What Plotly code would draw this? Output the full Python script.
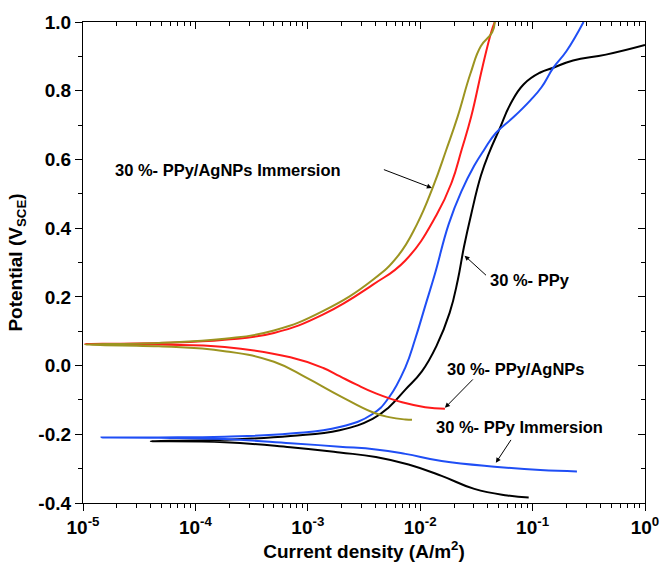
import math
import plotly.graph_objects as go

# ---------------- data ----------------
# 30 %- PPy (black)
I_ppy = [9.23e-2, 5.96e-2, 3.03e-2, 1.55e-2, 7.88e-3, 4.03e-3, 1.92e-3, 7.0e-4, 1.82e-4, 4.01e-5,
         1.82e-4, 7.0e-4, 1.92e-3, 3.77e-3, 5.27e-3, 7.38e-3, 1.035e-2, 1.40e-2, 1.83e-2, 2.16e-2,
         2.45e-2, 2.84e-2, 3.47e-2, 4.11e-2, 5.04e-2, 6.37e-2, 8.34e-2, 0.117,
         0.153, 0.229, 0.449, 1.0]
E_ppy = [-0.384, -0.378, -0.359, -0.321, -0.288, -0.266, -0.253, -0.238, -0.223, -0.220,
         -0.216, -0.205, -0.188, -0.155, -0.121, -0.070, -0.017, 0.058, 0.154, 0.249,
         0.345, 0.440, 0.553, 0.620, 0.686, 0.762, 0.819, 0.853,
         0.867, 0.888, 0.905, 0.933]

# 30 %- PPy Immersion (blue)
I_ppy_imm = [0.248, 0.117, 4.86e-2, 1.55e-2, 7.38e-3, 4.03e-3, 1.92e-3, 7.0e-4, 1.82e-4, 4.73e-5, 1.46e-5,
             4.73e-5, 1.82e-4, 7.0e-4, 1.92e-3, 3.77e-3, 5.27e-3, 7.38e-3, 9.04e-3, 1.107e-2, 1.355e-2,
             1.79e-2, 2.32e-2, 3.03e-2, 3.72e-2, 4.71e-2, 6.81e-2, 9.55e-2, 0.120, 0.153,
             0.199, 0.284]
E_ppy_imm = [-0.308, -0.304, -0.295, -0.278, -0.257, -0.244, -0.236, -0.226, -0.214, -0.210, -0.209,
             -0.209, -0.207, -0.198, -0.179, -0.141, -0.093, -0.005, 0.078, 0.173, 0.268,
             0.411, 0.506, 0.582, 0.629, 0.677, 0.724, 0.772, 0.810, 0.867,
             0.914, 1.0]

# 30 %- PPy/AgNPs (red)
I_ag = [1.66e-2, 1.107e-2, 6.90e-3, 4.03e-3, 2.69e-3, 1.92e-3, 1.374e-3, 7.0e-4,
        1.82e-4, 4.73e-5, 1.04e-5,
        4.73e-5, 1.82e-4, 5.0e-4, 1.374e-3, 3.77e-3, 7.38e-3, 1.40e-2, 1.91e-2, 2.34e-2,
        2.84e-2, 3.57e-2, 4.29e-2, 4.61e-2]
E_ag = [-0.126, -0.121, -0.107, -0.081, -0.055, -0.031, -0.007, 0.024,
        0.054, 0.061, 0.063,
        0.066, 0.075, 0.095, 0.149, 0.235, 0.306, 0.439, 0.534, 0.629,
        0.724, 0.867, 0.971, 1.0]

# 30 %- PPy/AgNPs Immersion (olive)
I_ag_imm = [8.45e-3, 7.38e-3, 5.27e-3, 3.77e-3, 1.92e-3, 9.8e-4, 5.0e-4, 1.82e-4, 4.73e-5, 1.04e-5,
            4.73e-5, 1.82e-4, 5.0e-4, 1.374e-3, 3.77e-3, 6.37e-3, 9.35e-3, 1.30e-2, 1.71e-2, 2.15e-2,
            2.80e-2, 3.47e-2, 4.37e-2, 4.61e-2]
E_ag_imm = [-0.158, -0.157, -0.150, -0.136, -0.088, -0.036, 0.011, 0.042, 0.056, 0.061,
            0.066, 0.078, 0.102, 0.159, 0.249, 0.320, 0.411, 0.520, 0.629, 0.724,
            0.850, 0.930, 0.970, 1.0]

series_names = ["30 %- PPy", "30 %- PPy Immersion", "30 %- PPy/AgNPs", "30 %- PPy/AgNPs Immersion"]
series_colors = ["#000000", "#1f4ef5", "#ff1a1a", "#9c9420"]

x_tick_vals = [1e-5, 1e-4, 1e-3, 1e-2, 1e-1, 1e0]
x_tick_text = ["10<sup>-5</sup>", "10<sup>-4</sup>", "10<sup>-3</sup>", "10<sup>-2</sup>",
               "10<sup>-1</sup>", "10<sup>0</sup>"]
y_tick_vals = [-0.4, -0.2, 0.0, 0.2, 0.4, 0.6, 0.8, 1.0]
y_tick_text = ["-0.4", "-0.2", "0.0", "0.2", "0.4", "0.6", "0.8", "1.0"]

# annotation texts: (label, text x, text y, arrow tail x, tail y, arrow head x, head y)
labels = [
    ("30 %- PPy/AgNPs Immersion", 1.95e-4, 0.570, 4.61e-3, 0.572, 1.27e-2, 0.517),
    ("30 %- PPy", 9.55e-2, 0.249, 3.97e-2, 0.259, 2.48e-2, 0.320),
    ("30 %- PPy/AgNPs", 7.16e-2, -0.009, 3.03e-2, -0.036, 1.66e-2, -0.123),
    ("30 %- PPy Immersion", 7.62e-2, -0.180, 6.55e-2, -0.212, 4.71e-2, -0.283),
]

FONT = "Liberation Sans, Arial, sans-serif"

fig = go.Figure()
for xs, ys, nm, col in [(I_ppy, E_ppy, series_names[0], series_colors[0]),
                        (I_ppy_imm, E_ppy_imm, series_names[1], series_colors[1]),
                        (I_ag, E_ag, series_names[2], series_colors[2]),
                        (I_ag_imm, E_ag_imm, series_names[3], series_colors[3])]:
    fig.add_trace(go.Scatter(x=xs, y=ys, mode="lines", name=nm,
                             line=dict(color=col, width=2, shape="spline", smoothing=1.3)))

minor_x = [k * 10.0 ** e for e in range(-5, 0) for k in range(2, 10)]

fig.update_layout(
    width=671, height=565,
    margin=dict(l=83, r=18, t=20, b=54),
    paper_bgcolor="white", plot_bgcolor="white",
    showlegend=False,
    font=dict(family=FONT, color="black", size=19, weight="bold"),
    xaxis=dict(type="log", range=[-5, 0], showgrid=False, zeroline=False,
               showline=True, linecolor="black", linewidth=1.2,
               ticks="outside", ticklen=7, tickwidth=1.2, tickcolor="black",
               tickmode="array", tickvals=x_tick_vals, ticktext=x_tick_text,
               tickfont=dict(size=19, family=FONT, weight="bold"),
               minor=dict(tickmode="array", tickvals=minor_x, ticks="outside", ticklen=4,
                          tickwidth=1, tickcolor="black", showgrid=False),
               title=dict(text="Current density (A/m<sup>2</sup>)",
                          font=dict(size=19, family=FONT, weight="bold"), standoff=2)),
    yaxis=dict(range=[-0.4, 1.0], showgrid=False, zeroline=False,
               showline=True, linecolor="black", linewidth=1.2,
               ticks="outside", ticklen=7, tickwidth=1.2, tickcolor="black",
               tickmode="array", tickvals=y_tick_vals, ticktext=y_tick_text,
               tickfont=dict(size=19, family=FONT, weight="bold"),
               minor=dict(dtick=0.1, ticks="outside", ticklen=4, tickwidth=1,
                          tickcolor="black", showgrid=False),
               title=dict(text="Potential (V<sub>SCE</sub>)",
                          font=dict(size=19, family=FONT, weight="bold"), standoff=10)),
    xaxis2=dict(type="log", range=[-5, 0], overlaying="x", side="top", anchor="y",
                showgrid=False, zeroline=False, showline=True, linecolor="black", linewidth=1.2,
                ticks="inside", ticklen=7, tickwidth=1.2, tickcolor="black",
                tickmode="array", tickvals=x_tick_vals, showticklabels=False,
                minor=dict(tickmode="array", tickvals=minor_x, ticks="inside", ticklen=4,
                           tickwidth=1, tickcolor="black", showgrid=False)),
    yaxis2=dict(range=[-0.4, 1.0], overlaying="y", side="right", anchor="x",
                showgrid=False, zeroline=False, showline=True, linecolor="black", linewidth=1.2,
                ticks="inside", ticklen=7, tickwidth=1.2, tickcolor="black",
                tickmode="array", tickvals=y_tick_vals, showticklabels=False,
                minor=dict(dtick=0.1, ticks="inside", ticklen=4, tickwidth=1,
                           tickcolor="black", showgrid=False)),
)

# invisible trace so the mirror axes render
fig.add_trace(go.Scatter(x=[1e-5], y=[-0.4], xaxis="x2", yaxis="y2", mode="markers",
                         marker=dict(opacity=0), hoverinfo="skip", showlegend=False))

for txt, tx, ty, ax0, ay0, hx, hy in labels:
    fig.add_annotation(x=math.log10(tx), y=ty, xref="x", yref="y", text=txt, showarrow=False,
                       font=dict(size=16.5, family=FONT, color="black", weight="bold"),
                       xanchor="center", yanchor="middle")
    fig.add_annotation(x=math.log10(hx), y=hy, xref="x", yref="y",
                       ax=math.log10(ax0), ay=ay0, axref="x", ayref="y",
                       text="", showarrow=True, arrowhead=2, arrowsize=1.0, arrowwidth=1,
                       arrowcolor="black", standoff=0)

fig.write_html("out.html")
